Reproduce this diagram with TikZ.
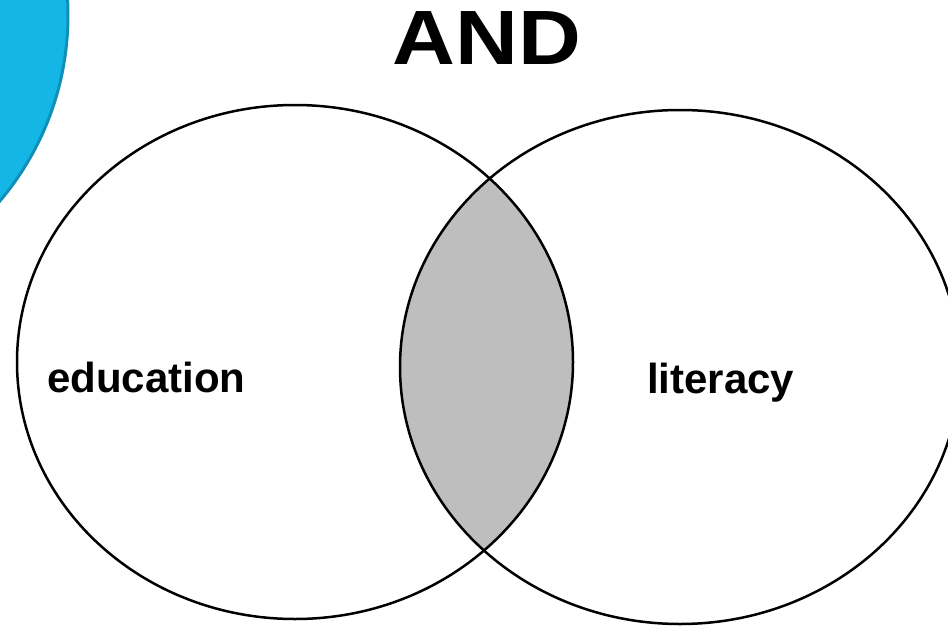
\documentclass[tikz,border=0pt]{standalone}
\usepackage{fontspec}
\setmainfont{Liberation Sans}
\definecolor{bubble}{HTML}{14B6E6}
\definecolor{bubbleline}{HTML}{0E90B8}
\definecolor{overlap}{HTML}{BEBEBE}
\tikzstyle{setline}=[draw=black, line width=2.5pt]
\tikzstyle{setlabel}=[anchor=base west, inner sep=0pt, font=\bfseries\fontsize{42}{50}\selectfont]

\begin{document}
\begin{tikzpicture}[x=1pt,y=-1pt]
            \useasboundingbox (0,0) rectangle (948,626);
            \clip (0,0) rectangle (948,626);
            \coordinate (edu) at (295,362);
            \coordinate (lit) at (680,367);
            \fill[bubble, draw=bubbleline, line width=3pt] (-220,15) circle (288);
            \begin{scope}
                \clip (edu) ellipse [x radius=278, y radius=257];
                \fill[overlap] (lit) ellipse [x radius=280, y radius=257];
            \end{scope}
            \draw[setline] (edu) ellipse [x radius=278, y radius=257];
            \draw[setline] (lit) ellipse [x radius=280, y radius=257];
            \node[anchor=base, inner sep=0pt, font=\bfseries\fontsize{77}{80}\selectfont] (title) at (487,65) {\scalebox{1.13}[1]{AND}};
            \node[setlabel] (eduname) at (47,392) {education};
            \node[setlabel] (litname) at (647,393) {literacy};
        \end{tikzpicture}
\end{document}
